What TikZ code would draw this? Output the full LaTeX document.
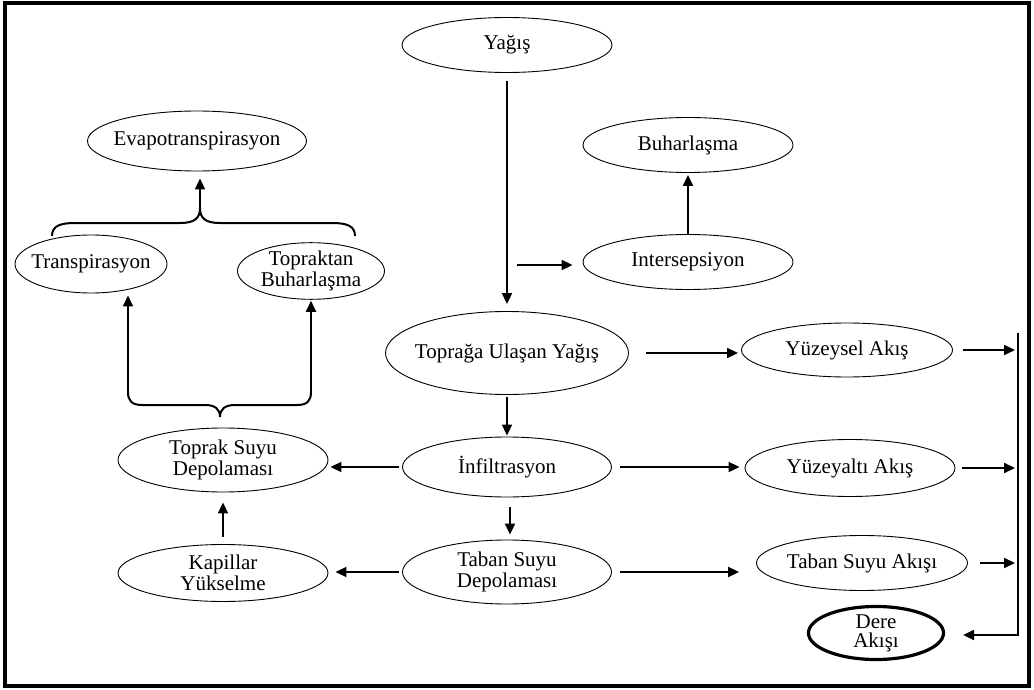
\documentclass[tikz,border=0pt]{standalone}
\usepackage{fontspec}
\setmainfont{Liberation Serif}
\usetikzlibrary{shapes.geometric,arrows.meta,calc}
\begin{document}
\begin{tikzpicture}[x=1pt,y=-1pt,
  el/.style={draw,ellipse,line width=0.9pt,inner xsep=-9pt,inner ysep=0pt,align=center,
    font=\fontsize{21}{21}\selectfont},
  arr/.style={line width=2pt,-{Triangle[length=11pt,width=10pt]}},
  brc/.style={line width=2pt}]
\useasboundingbox (0,0) rectangle (1034,690);
\draw[line width=3.5pt] (5,3) rectangle (1029,686);
% nodes
\node[el,minimum width=210pt,minimum height=55pt] (yagis) at (507,45) {Yağış};
\node[el,minimum width=210pt,minimum height=55pt] (buhar) at (688,145) {Buharlaşma};
\node[el,minimum width=210pt,minimum height=55pt] (inter) at (688,262) {Intersepsiyon};
\node[el,minimum width=219pt,minimum height=60pt] (evapo) at (197,141) {Evapotranspirasyon};
\node[el,minimum width=152pt,minimum height=58pt] (trans) at (91,264) {Transpirasyon};
\node[el,minimum width=147pt,minimum height=56pt] (topbuh) at (311,271) {Topraktan\\Buharlaşma};
\node[el,minimum width=243pt,minimum height=83pt] (toprag) at (507,353) {Toprağa Ulaşan Yağış};
\node[el,minimum width=209pt,minimum height=60pt] (infil) at (507,467) {İnfiltrasyon};
\node[el,minimum width=209pt,minimum height=64pt] (tabandep) at (507,572) {Taban Suyu\\Depolaması};
\node[el,minimum width=210pt,minimum height=64pt] (topsuyu) at (223,460) {Toprak Suyu\\Depolaması};
\node[el,minimum width=210pt,minimum height=57pt] (kapil) at (223,573) {Kapillar\\Yükselme};
\node[el,minimum width=211pt,minimum height=54pt] (yuzeysel) at (847,350) {Yüzeysel Akış};
\node[el,minimum width=210pt,minimum height=57pt] (yuzeyalti) at (850,468) {Yüzeyaltı Akış};
\node[el,minimum width=211pt,minimum height=55pt] (tabanakis) at (862,563) {Taban Suyu Akışı};
\node[el,line width=3.2pt,minimum width=135pt,minimum height=53pt,font=\fontsize{21}{19}\selectfont] (dere) at (876,633) {Dere\\Akışı};
% coordinates
\coordinate (ia) at (517,265);
\coordinate (tb) at (200,208);
\coordinate (tl) at (52,236);
\coordinate (tr) at (355,236);
\coordinate (bl) at (128,392);
\coordinate (br) at (311,392);
\coordinate (bt) at (220,417);
\coordinate (colTop) at (1018,333);
\coordinate (colBot) at (1018,635);
% braces
\draw[brc] (tl) .. controls (52,226) and (60,223) .. (75,223) -- (180,223)
  .. controls (195,223) and (200,218) .. (tb)
  .. controls (200,218) and (205,223) .. (220,223) -- (332,223)
  .. controls (347,223) and (355,226) .. (tr);
\draw[brc] (bl) .. controls (128,401) and (132,405) .. (142,405) -- (205,405)
  .. controls (215,405) and (220,409) .. (bt)
  .. controls (220,409) and (225,405) .. (235,405) -- (297,405)
  .. controls (307,405) and (311,401) .. (br);
% arrows
\draw[arr,shorten >=7pt] (tb) -- (tb |- evapo.south);
\draw[arr,shorten >=2pt] (bl) -- (bl |- trans.south);
\draw[arr,shorten >=1pt] (br) -- (br |- topbuh.south);
\draw[arr,shorten <=8pt,shorten >=7pt] (yagis.south) -- (toprag.north);
\draw[arr,shorten >=10pt] (ia) -- (ia -| inter.west);
\draw[arr,shorten >=2pt] (inter.north) -- (buhar.south);
\draw[arr,shorten <=17pt,shorten >=3pt] (toprag.east) -- (toprag.east -| yuzeysel.west);
\draw[arr,shorten <=8pt,shorten >=5pt] (infil.east) -- (infil.east -| yuzeyalti.west);
\draw[arr,shorten <=8pt,shorten >=17pt] (tabandep.east) -- (tabandep.east -| tabanakis.west);
\draw[arr,shorten <=3pt,shorten >=2pt] (infil.west) -- (infil.west -| topsuyu.east);
\draw[arr,shorten <=3pt,shorten >=7pt] (tabandep.west) -- (tabandep.west -| kapil.east);
\draw[arr,shorten <=7pt,shorten >=10pt] (kapil.north) -- (topsuyu.south);
\draw[arr,shorten <=2pt,shorten >=1pt] (toprag.south) -- (infil.north);
\draw[arr,shorten <=10pt,shorten >=5pt] ([xshift=3pt]infil.south) -- ([xshift=3pt]tabandep.north);
\draw[arr,shorten <=10pt,shorten >=3pt] (yuzeysel.east) -- (yuzeysel.east -| colTop);
\draw[arr,shorten <=7pt,shorten >=3pt] (yuzeyalti.east) -- (yuzeyalti.east -| colTop);
\draw[arr,shorten <=12pt,shorten >=3pt] (tabanakis.east) -- (tabanakis.east -| colTop);
\draw[arr,shorten >=18pt] (colTop) -- (colBot) -- (colBot -| dere.east);
\end{tikzpicture}
\end{document}
